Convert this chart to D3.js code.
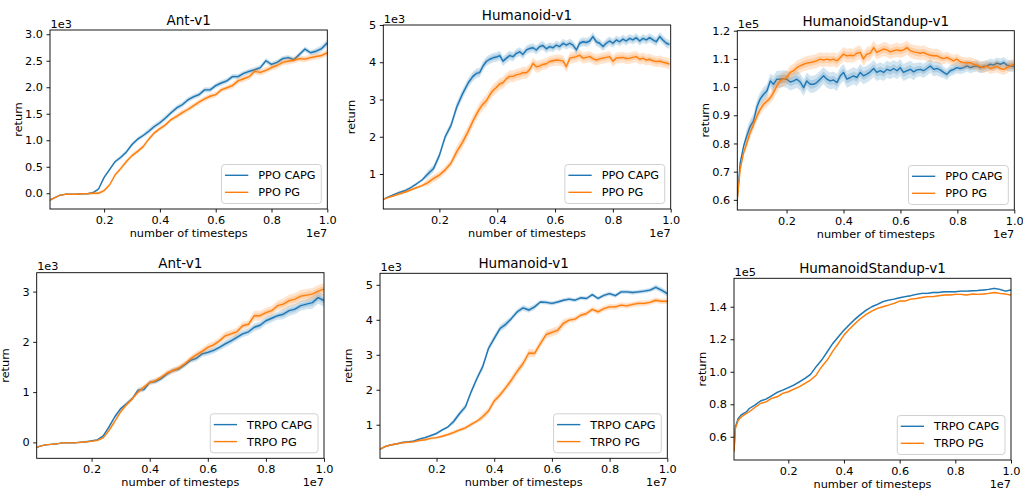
<!DOCTYPE html>
<html>
<head>
<meta charset="utf-8">
<script src="https://cdn.jsdelivr.net/npm/d3@7/dist/d3.min.js"></script>
<style>
  body { margin: 0; background: #fff; }
  svg { display: block; font-family: "DejaVu Sans", sans-serif; }
</style>
</head>
<body>
<svg id="chart" width="1023" height="495"></svg>
<script>
////////////////////////////////////////////////////////////////////////
// Data. Timesteps are in units of 1e7, returns are
// in the units shown by each panel's offset label (1e3 or 1e5).

let grid02 = [0.02,0.04,0.06,0.08,0.10,0.12,0.14,0.16,0.18,0.20,0.22,0.24,0.26,0.28,0.30,0.32,0.34,0.36,0.38,0.40,
  0.42,0.44,0.46,0.48,0.50,0.52,0.54,0.56,0.58,0.60,0.62,0.64,0.66,0.68,0.70,0.72,0.74,0.76,0.78,0.80,
  0.82,0.84,0.86,0.88,0.90,0.92,0.94,0.96,0.98,1.00];

let stepsAntPpo = [0.006].concat(grid02);
let stepsHumPpo = [0.006,0.02,0.04,0.06,0.08,0.10,0.12,0.14,0.16,0.18,0.20,0.22,0.24,0.26,0.28,0.30,
  0.316,0.328,0.339,0.351,0.362,0.374,0.386,0.397,0.409,0.420,0.432,0.443,0.455,0.466,0.478,0.489,0.501,0.512,
  0.524,0.535,0.547,0.558,0.570,0.581,0.593,0.604,0.616,0.628,0.639,0.651,0.662,0.674,0.685,0.697,0.708,0.720,
  0.731,0.743,0.754,0.766,0.777,0.789,0.800,0.812,0.823,0.835,0.846,0.858,0.869,0.881,0.893,0.904,0.916,0.927,
  0.939,0.950,0.962,0.973,0.985,0.996];
let stepsStandPpo = [0.025,0.037,0.049,0.060,0.072,0.084,0.096,0.107,0.119,0.131,0.143,0.154,0.166,0.178,0.189,0.201,
  0.213,0.225,0.236,0.248,0.260,0.271,0.283,0.295,0.306,0.318,0.330,0.342,0.353,0.365,0.377,0.389,0.400,0.412,
  0.424,0.435,0.447,0.459,0.470,0.482,0.494,0.506,0.517,0.529,0.541,0.553,0.564,0.576,0.588,0.599,0.611,0.623,
  0.635,0.646,0.658,0.670,0.681,0.693,0.705,0.717,0.728,0.740,0.752,0.763,0.775,0.787,0.798,0.810,0.822,0.834,
  0.845,0.857,0.869,0.880,0.892,0.904,0.916,0.927,0.939,0.951,0.963,0.974,0.986,0.998];
let stepsAntTrpo = [0.011].concat(grid02);
let stepsHumTrpo = [0.004].concat(grid02);
let stepsStandTrpo = [0.005,0.01,0.02,0.03,0.04,0.05,0.06,0.08,0.10,0.12,0.14,0.16,0.18,0.20,0.22,0.24,0.26,0.28,0.30,
  0.32,0.34,0.36,0.38,0.40,0.42,0.44,0.46,0.48,0.50,0.52,0.54,0.56,0.58,0.60,0.62,0.64,0.66,0.68,0.70,
  0.72,0.74,0.76,0.78,0.80,0.82,0.84,0.86,0.88,0.90,0.92,0.94,0.96,0.98,1.00];

// Ant-v1, PPO
let antPpoCapg = [-0.13,-0.09,-0.04,-0.02,-0.02,-0.02,-0.01,-0.01,0.01,0.08,0.30,0.45,0.60,0.68,0.78,0.92,1.02,1.09,1.17,1.26,
  1.33,1.42,1.52,1.61,1.67,1.76,1.82,1.86,1.95,1.95,2.03,2.08,2.12,2.20,2.20,2.26,2.30,2.33,2.37,2.50,
  2.43,2.47,2.54,2.56,2.52,2.62,2.72,2.65,2.68,2.73,2.84];
let antPpoPg = [-0.13,-0.09,-0.04,-0.02,-0.02,-0.02,-0.01,-0.01,0.00,0.00,0.05,0.16,0.35,0.47,0.60,0.71,0.79,0.88,1.02,1.14,
  1.22,1.29,1.39,1.45,1.52,1.58,1.65,1.72,1.78,1.83,1.86,1.95,1.99,2.03,2.12,2.16,2.20,2.30,2.28,2.32,
  2.37,2.41,2.47,2.49,2.51,2.54,2.53,2.56,2.58,2.60,2.65];

// Humanoid-v1, PPO
let humPpoCapg = [0.32,0.37,0.44,0.50,0.55,0.63,0.73,0.84,1.00,1.15,1.50,2.00,2.30,2.80,3.15,3.45,
  3.62,3.70,3.72,3.90,4.02,4.08,4.12,4.14,4.18,4.03,4.11,4.18,4.15,4.24,4.28,4.21,4.33,4.37,
  4.39,4.33,4.42,4.45,4.36,4.42,4.39,4.46,4.42,4.51,4.46,4.51,4.46,4.33,4.51,4.55,4.53,4.57,
  4.69,4.55,4.51,4.42,4.51,4.57,4.51,4.60,4.55,4.62,4.57,4.64,4.60,4.66,4.57,4.64,4.60,4.66,
  4.60,4.55,4.69,4.60,4.51,4.48];
let humPpoPg = [0.32,0.36,0.41,0.46,0.51,0.57,0.63,0.69,0.77,0.88,0.97,1.11,1.29,1.60,1.85,2.15,
  2.42,2.60,2.75,2.88,2.96,3.12,3.25,3.32,3.42,3.45,3.56,3.62,3.62,3.66,3.68,3.72,3.72,3.80,
  3.97,3.88,3.90,3.94,3.96,4.02,4.04,4.06,4.05,4.03,3.88,4.11,4.13,4.15,4.19,4.11,4.13,4.15,
  4.10,4.06,4.09,4.11,4.13,4.15,4.03,4.11,4.12,4.13,4.10,4.11,4.13,4.15,4.08,4.11,4.06,4.08,
  4.04,4.02,4.03,4.00,3.98,3.95];

// HumanoidStandup-v1, PPO
let standPpoCapg = [0.58,0.73,0.79,0.826,0.86,0.88,0.93,0.957,0.974,0.986,
  1.022,1.01,1.028,1.028,1.03,1.028,1.018,1.022,1.028,1.018,
  0.998,1.022,1.01,1.01,1.016,1.028,1.04,1.028,1.022,1.025,
  1.016,1.04,1.052,1.028,1.034,1.04,1.034,1.052,1.04,1.046,
  1.054,1.066,1.052,1.058,1.052,1.063,1.058,1.066,1.058,1.069,
  1.052,1.058,1.063,1.054,1.061,1.063,1.058,1.066,1.075,1.063,
  1.066,1.061,1.052,1.045,1.058,1.063,1.069,1.066,1.069,1.075,
  1.069,1.073,1.075,1.069,1.073,1.075,1.081,1.078,1.085,1.081,
  1.087,1.078,1.075,1.073];
let standPpoPg = [0.58,0.707,0.766,0.80,0.838,0.867,0.897,0.92,0.939,0.95,
  0.962,0.98,1.004,1.022,1.028,1.034,1.052,1.058,1.069,1.075,
  1.081,1.085,1.087,1.09,1.093,1.099,1.096,1.099,1.096,1.099,
  1.093,1.105,1.117,1.111,1.113,1.111,1.12,1.123,1.10,1.117,
  1.12,1.14,1.123,1.129,1.135,1.132,1.125,1.129,1.132,1.129,
  1.132,1.14,1.129,1.125,1.123,1.12,1.123,1.117,1.113,1.111,
  1.111,1.105,1.101,1.105,1.099,1.093,1.099,1.09,1.087,1.085,
  1.087,1.081,1.078,1.073,1.069,1.075,1.066,1.069,1.073,1.066,
  1.063,1.069,1.075,1.081];

// Ant-v1, TRPO
let antTrpoCapg = [-0.105,-0.08,-0.05,-0.04,-0.03,-0.01,-0.01,-0.01,0.00,0.01,0.03,0.05,0.13,0.31,0.51,0.67,0.77,0.87,1.04,1.05,
  1.19,1.21,1.27,1.36,1.43,1.46,1.54,1.63,1.67,1.76,1.79,1.83,1.89,1.96,2.02,2.09,2.16,2.20,2.29,2.33,
  2.42,2.47,2.52,2.55,2.62,2.65,2.72,2.75,2.78,2.88,2.82];
let antTrpoPg = [-0.105,-0.08,-0.05,-0.04,-0.03,-0.01,-0.01,-0.01,0.00,0.01,0.02,0.04,0.09,0.24,0.42,0.61,0.75,0.87,1.00,1.10,
  1.19,1.23,1.30,1.38,1.43,1.48,1.56,1.66,1.74,1.81,1.89,1.94,2.02,2.12,2.16,2.20,2.32,2.35,2.52,2.52,
  2.58,2.62,2.72,2.75,2.82,2.85,2.91,2.93,2.95,3.01,3.05];

// Humanoid-v1, TRPO
let humTrpoCapg = [0.30,0.37,0.42,0.45,0.49,0.51,0.53,0.59,0.63,0.69,0.75,0.85,0.94,1.10,1.32,1.51,1.94,2.32,2.66,3.18,
  3.47,3.75,3.87,4.04,4.23,4.34,4.28,4.37,4.51,4.50,4.47,4.51,4.56,4.59,4.56,4.63,4.61,4.72,4.61,4.70,
  4.75,4.69,4.80,4.80,4.78,4.80,4.82,4.85,4.93,4.85,4.75];
let humTrpoPg = [0.30,0.37,0.42,0.45,0.48,0.50,0.51,0.55,0.57,0.61,0.63,0.67,0.72,0.78,0.85,0.91,1.01,1.10,1.23,1.39,
  1.68,1.85,2.06,2.28,2.53,2.75,3.05,3.04,3.32,3.58,3.64,3.70,3.90,3.99,4.02,4.13,4.18,4.30,4.23,4.32,
  4.37,4.37,4.42,4.40,4.44,4.47,4.47,4.50,4.56,4.53,4.53];

// HumanoidStandup-v1, TRPO
let standTrpoCapg = [0.510,0.660,0.713,0.733,0.744,0.754,0.774,0.795,0.820,0.832,0.852,0.873,0.887,0.902,0.918,0.938,0.959,0.984,
  1.031,1.072,1.123,1.174,1.215,1.256,1.291,1.324,1.353,1.379,1.400,1.414,1.431,1.441,1.447,1.455,1.462,1.468,1.476,1.482,
  1.482,1.488,1.488,1.492,1.492,1.492,1.496,1.496,1.498,1.500,1.503,1.507,1.513,1.507,1.496,1.503];
let standTrpoPg = [0.510,0.650,0.700,0.720,0.733,0.744,0.754,0.780,0.805,0.815,0.836,0.846,0.867,0.877,0.893,0.908,0.928,0.949,
  0.979,1.031,1.072,1.127,1.174,1.226,1.263,1.297,1.328,1.353,1.373,1.390,1.400,1.410,1.421,1.435,1.435,1.447,1.451,1.457,
  1.462,1.462,1.468,1.472,1.472,1.476,1.476,1.472,1.478,1.476,1.478,1.482,1.488,1.482,1.478,1.472];

// Half-width of the shaded band, one value per tenth of the run (0.0, 0.1, ... 1.0)
let antPpoCapgSpread  = [0.01,0.01,0.03,0.04,0.05,0.05,0.05,0.05,0.05,0.05,0.06];
let antPpoPgSpread    = [0.01,0.01,0.03,0.04,0.04,0.05,0.05,0.06,0.06,0.06,0.06];
let humPpoCapgSpread  = [0.02,0.04,0.10,0.13,0.13,0.12,0.12,0.12,0.12,0.12,0.12];
let humPpoPgSpread    = [0.02,0.04,0.10,0.16,0.16,0.16,0.15,0.15,0.15,0.15,0.15];
let standPpoCapgSpread = [0.01,0.025,0.03,0.03,0.03,0.03,0.03,0.025,0.02,0.02,0.02];
let standPpoPgSpread   = [0.01,0.02,0.025,0.025,0.025,0.025,0.025,0.025,0.02,0.02,0.02];
let antTrpoCapgSpread = [0.01,0.01,0.02,0.04,0.05,0.05,0.06,0.07,0.08,0.10,0.12];
let antTrpoPgSpread   = [0.01,0.01,0.02,0.04,0.05,0.06,0.07,0.08,0.10,0.12,0.12];
let humTrpoCapgSpread = [0.02,0.03,0.04,0.08,0.10,0.08,0.06,0.06,0.06,0.06,0.08];
let humTrpoPgSpread   = [0.02,0.03,0.04,0.06,0.10,0.12,0.12,0.08,0.08,0.08,0.08];
let standTrpoCapgSpread = [0.005,0.005,0.006,0.006,0.008,0.006,0.005,0.005,0.005,0.005,0.005];
let standTrpoPgSpread   = [0.005,0.005,0.006,0.006,0.008,0.006,0.005,0.005,0.005,0.005,0.005];

let xTicks = [0.2, 0.4, 0.6, 0.8, 1.0];

////////////////////////////////////////////////////////////////////////
// Panel layout (pixel boxes of the axes, and the axis ranges)

let blue = "#1f77b4";
let orange = "#ff7f0e";

let panels = [
  { title: "Ant-v1", box: [50, 30, 327.3, 209], xDom: [0.006, 1], yDom: [-0.297, 3.08],
    yTicks: [0, 0.5, 1, 1.5, 2, 2.5, 3], yFmt: ".1f", yExp: "1e3", steps: stepsAntPpo,
    series: [["PPO CAPG", antPpoCapg, antPpoCapgSpread], ["PPO PG", antPpoPg, antPpoPgSpread]] },
  { title: "Humanoid-v1", box: [383.3, 25, 670.7, 209], xDom: [0.006, 1], yDom: [0.06, 5.0],
    yTicks: [1, 2, 3, 4, 5], yFmt: "d", yExp: "1e3", steps: stepsHumPpo,
    series: [["PPO CAPG", humPpoCapg, humPpoCapgSpread], ["PPO PG", humPpoPg, humPpoPgSpread]] },
  { title: "HumanoidStandup-v1", box: [737.3, 30.7, 1014.3, 210], xDom: [0.027, 1], yDom: [0.564, 1.2],
    yTicks: [0.6, 0.7, 0.8, 0.9, 1.0, 1.1, 1.2], yFmt: ".1f", yExp: "1e5", steps: stepsStandPpo,
    series: [["PPO CAPG", standPpoCapg, standPpoCapgSpread], ["PPO PG", standPpoPg, standPpoPgSpread]] },
  { title: "Ant-v1", box: [36.7, 272.7, 324, 458.3], xDom: [0.011, 1], yDom: [-0.317, 3.376],
    yTicks: [0, 1, 2, 3], yFmt: "d", yExp: "1e3", steps: stepsAntTrpo,
    series: [["TRPO CAPG", antTrpoCapg, antTrpoCapgSpread], ["TRPO PG", antTrpoPg, antTrpoPgSpread]] },
  { title: "Humanoid-v1", box: [380, 273.3, 667.3, 458.3], xDom: [0.004, 1], yDom: [0.04, 5.33],
    yTicks: [1, 2, 3, 4, 5], yFmt: "d", yExp: "1e3", steps: stepsHumTrpo,
    series: [["TRPO CAPG", humTrpoCapg, humTrpoCapgSpread], ["TRPO PG", humTrpoPg, humTrpoPgSpread]] },
  { title: "HumanoidStandup-v1", box: [734, 278.3, 1011, 460], xDom: [0.005, 1], yDom: [0.457, 1.575],
    yTicks: [0.6, 0.8, 1.0, 1.2, 1.4], yFmt: ".1f", yExp: "1e5", steps: stepsStandTrpo,
    series: [["TRPO CAPG", standTrpoCapg, standTrpoCapgSpread], ["TRPO PG", standTrpoPg, standTrpoPgSpread]] }
];

let svg = d3.select("#chart");
let fontSize = 11.3;

function drawPanel(p, idx) {
  let [left, top, right, bottom] = p.box;
  let x = d3.scaleLinear().domain(p.xDom).range([left, right]);
  let y = d3.scaleLinear().domain(p.yDom).range([bottom, top]);
  let g = svg.append("g");

  // clip everything to the axes box
  let clipId = "clip" + idx;
  g.append("clipPath").attr("id", clipId)
    .append("rect").attr("x", left).attr("y", top)
    .attr("width", right - left).attr("height", bottom - top);

  let plot = g.append("g").attr("clip-path", "url(#" + clipId + ")");
  let colors = [blue, orange];

  p.series.forEach(function(s, i) {
    let rows = s[1].map(function(v, k) {
      let xv = p.steps[k];
      return { x: xv, v: v, w: s[2][Math.min(10, Math.round(xv * 10))] };
    });
    // two shaded bands: wide and narrow
    [1, 0.5].forEach(function(f) {
      let area = d3.area()
        .x(function(d) { return x(d.x); })
        .y0(function(d) { return y(d.v - d.w * f); })
        .y1(function(d) { return y(d.v + d.w * f); });
      plot.append("path").datum(rows)
        .attr("d", area)
        .attr("fill", colors[i])
        .attr("fill-opacity", 0.2);
    });
    let line = d3.line()
      .x(function(d) { return x(d.x); })
      .y(function(d) { return y(d.v); });
    plot.append("path").datum(rows)
      .attr("d", line)
      .attr("fill", "none")
      .attr("stroke", colors[i])
      .attr("stroke-width", 1.4)
      .attr("stroke-linejoin", "round");
  });

  // axes
  let xAxis = d3.axisBottom(x).tickValues(xTicks).tickFormat(d3.format(".1f"))
    .tickSizeInner(3.5).tickSizeOuter(0).tickPadding(3.5);
  let yAxis = d3.axisLeft(y).tickValues(p.yTicks).tickFormat(d3.format(p.yFmt))
    .tickSizeInner(3.5).tickSizeOuter(0).tickPadding(3.5);

  let gx = g.append("g").attr("transform", "translate(0," + bottom + ")").call(xAxis);
  let gy = g.append("g").attr("transform", "translate(" + left + ",0)").call(yAxis);
  [gx, gy].forEach(function(a) {
    a.select(".domain").remove();
    a.selectAll("line").attr("stroke", "#000").attr("stroke-width", 0.9);
    a.selectAll("text").attr("font-size", fontSize).attr("fill", "#000")
      .attr("font-family", "DejaVu Sans, sans-serif");
  });

  // frame
  g.append("rect").attr("x", left).attr("y", top)
    .attr("width", right - left).attr("height", bottom - top)
    .attr("fill", "none").attr("stroke", "#000").attr("stroke-width", 0.9);

  // title and labels
  g.append("text").attr("x", (left + right) / 2).attr("y", top - 5)
    .attr("text-anchor", "middle").attr("font-size", 13.5).text(p.title);
  g.append("text").attr("x", left + 0.5).attr("y", top - 2.5)
    .attr("font-size", fontSize).text(p.yExp);
  g.append("text").attr("x", (left + right) / 2).attr("y", bottom + 28)
    .attr("text-anchor", "middle").attr("font-size", fontSize).text("number of timesteps");
  g.append("text").attr("x", right).attr("y", bottom + 28)
    .attr("text-anchor", "end").attr("font-size", fontSize).text("1e7");
  g.append("text")
    .attr("transform", "translate(" + (left - 28) + "," + ((top + bottom) / 2) + ") rotate(-90)")
    .attr("text-anchor", "middle").attr("font-size", fontSize).text("return");

  // legend, lower right
  let lg = g.append("g");
  let box = lg.append("rect").attr("rx", 3).attr("fill", "#fff").attr("fill-opacity", 0.8)
    .attr("stroke", "#ccc").attr("stroke-width", 0.9);
  let maxW = 0;
  p.series.forEach(function(s, i) {
    let ry = 10.8 + i * 17;
    lg.append("line").attr("x1", 3.5).attr("x2", 26.8).attr("y1", ry).attr("y2", ry)
      .attr("stroke", colors[i]).attr("stroke-width", 1.4);
    let t = lg.append("text").attr("x", 36.8).attr("y", ry).attr("dy", "0.36em")
      .attr("font-size", fontSize).text(s[0]);
    maxW = Math.max(maxW, t.node().getComputedTextLength());
  });
  let lw = 36.8 + maxW + 5.7, lh = 39;
  box.attr("width", lw).attr("height", lh);
  lg.attr("transform", "translate(" + (right - 6 - lw) + "," + (bottom - 5.5 - lh) + ")");
}

panels.forEach(drawPanel);
</script>
</body>
</html>
